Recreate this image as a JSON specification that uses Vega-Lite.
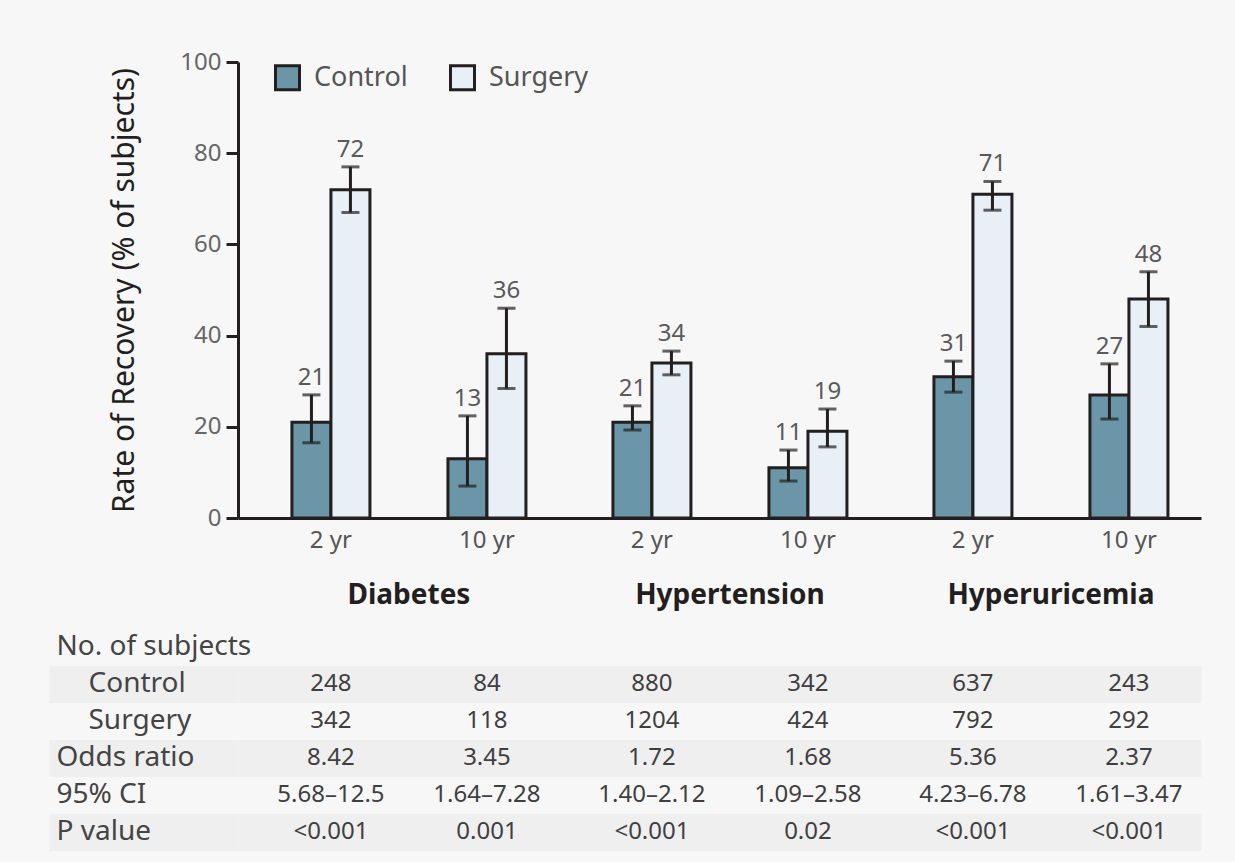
{
  "$schema": "https://vega.github.io/schema/vega-lite/v6.json",
  "background": "#f7f7f7",
  "padding": {"left": 30, "top": 50, "right": 40, "bottom": 12},
  "bounds": "flush",
  "spacing": 110,
  "config": {"view": {"stroke": null}, "font": "Noto Sans"},
  "datasets": {
    "bars": [
      {"condition": "Diabetes", "time": "2 yr", "group": "Control", "key": "2 yr|Control", "value": 21, "lower": 16.5, "upper": 27},
      {"condition": "Diabetes", "time": "2 yr", "group": "Surgery", "key": "2 yr|Surgery", "value": 72, "lower": 67, "upper": 77},
      {"condition": "Diabetes", "time": "10 yr", "group": "Control", "key": "10 yr|Control", "value": 13, "lower": 7, "upper": 22.4},
      {"condition": "Diabetes", "time": "10 yr", "group": "Surgery", "key": "10 yr|Surgery", "value": 36, "lower": 28.4, "upper": 46},
      {"condition": "Hypertension", "time": "2 yr", "group": "Control", "key": "2 yr|Control", "value": 21, "lower": 19.3, "upper": 24.6},
      {"condition": "Hypertension", "time": "2 yr", "group": "Surgery", "key": "2 yr|Surgery", "value": 34, "lower": 31.4, "upper": 36.6},
      {"condition": "Hypertension", "time": "10 yr", "group": "Control", "key": "10 yr|Control", "value": 11, "lower": 8.1, "upper": 14.9},
      {"condition": "Hypertension", "time": "10 yr", "group": "Surgery", "key": "10 yr|Surgery", "value": 19, "lower": 15.6, "upper": 23.9},
      {"condition": "Hyperuricemia", "time": "2 yr", "group": "Control", "key": "2 yr|Control", "value": 31, "lower": 27.6, "upper": 34.4},
      {"condition": "Hyperuricemia", "time": "2 yr", "group": "Surgery", "key": "2 yr|Surgery", "value": 71, "lower": 67.5, "upper": 73.8},
      {"condition": "Hyperuricemia", "time": "10 yr", "group": "Control", "key": "10 yr|Control", "value": 27, "lower": 21.7, "upper": 33.8},
      {"condition": "Hyperuricemia", "time": "10 yr", "group": "Surgery", "key": "10 yr|Surgery", "value": 48, "lower": 42, "upper": 54}
    ],
    "table": [
      {"condition": "Diabetes", "time": "2 yr", "row": "Control", "text": "248"},
      {"condition": "Diabetes", "time": "10 yr", "row": "Control", "text": "84"},
      {"condition": "Hypertension", "time": "2 yr", "row": "Control", "text": "880"},
      {"condition": "Hypertension", "time": "10 yr", "row": "Control", "text": "342"},
      {"condition": "Hyperuricemia", "time": "2 yr", "row": "Control", "text": "637"},
      {"condition": "Hyperuricemia", "time": "10 yr", "row": "Control", "text": "243"},
      {"condition": "Diabetes", "time": "2 yr", "row": "Surgery", "text": "342"},
      {"condition": "Diabetes", "time": "10 yr", "row": "Surgery", "text": "118"},
      {"condition": "Hypertension", "time": "2 yr", "row": "Surgery", "text": "1204"},
      {"condition": "Hypertension", "time": "10 yr", "row": "Surgery", "text": "424"},
      {"condition": "Hyperuricemia", "time": "2 yr", "row": "Surgery", "text": "792"},
      {"condition": "Hyperuricemia", "time": "10 yr", "row": "Surgery", "text": "292"},
      {"condition": "Diabetes", "time": "2 yr", "row": "Odds ratio", "text": "8.42"},
      {"condition": "Diabetes", "time": "10 yr", "row": "Odds ratio", "text": "3.45"},
      {"condition": "Hypertension", "time": "2 yr", "row": "Odds ratio", "text": "1.72"},
      {"condition": "Hypertension", "time": "10 yr", "row": "Odds ratio", "text": "1.68"},
      {"condition": "Hyperuricemia", "time": "2 yr", "row": "Odds ratio", "text": "5.36"},
      {"condition": "Hyperuricemia", "time": "10 yr", "row": "Odds ratio", "text": "2.37"},
      {"condition": "Diabetes", "time": "2 yr", "row": "95% CI", "text": "5.68–12.5"},
      {"condition": "Diabetes", "time": "10 yr", "row": "95% CI", "text": "1.64–7.28"},
      {"condition": "Hypertension", "time": "2 yr", "row": "95% CI", "text": "1.40–2.12"},
      {"condition": "Hypertension", "time": "10 yr", "row": "95% CI", "text": "1.09–2.58"},
      {"condition": "Hyperuricemia", "time": "2 yr", "row": "95% CI", "text": "4.23–6.78"},
      {"condition": "Hyperuricemia", "time": "10 yr", "row": "95% CI", "text": "1.61–3.47"},
      {"condition": "Diabetes", "time": "2 yr", "row": "P value", "text": "<0.001"},
      {"condition": "Diabetes", "time": "10 yr", "row": "P value", "text": "0.001"},
      {"condition": "Hypertension", "time": "2 yr", "row": "P value", "text": "<0.001"},
      {"condition": "Hypertension", "time": "10 yr", "row": "P value", "text": "0.02"},
      {"condition": "Hyperuricemia", "time": "2 yr", "row": "P value", "text": "<0.001"},
      {"condition": "Hyperuricemia", "time": "10 yr", "row": "P value", "text": "<0.001"}
    ]
  },
  "vconcat": [
    {
      "width": 963,
      "height": 456,
      "data": {"name": "bars"},
      "encoding": {
        "x": {
          "field": "condition", "type": "nominal",
          "scale": {"domain": ["Diabetes", "Hypertension", "Hyperuricemia"], "paddingInner": 0.271, "paddingOuter": 0.1355, "align": 0.62},
          "axis": {"title": null, "domainColor": "#231f20", "domainWidth": 3, "ticks": false, "labelAngle": 0, "labelPadding": 63, "labelFontSize": 28, "labelFontWeight": "bold", "labelColor": "#231f20", "labelLimit": 0}
        }
      },
      "layer": [
        {
          "encoding": {
            "xOffset": {"field": "key", "type": "nominal", "scale": {"domain": ["2 yr|Control", "2 yr|Surgery", "gapA", "gapB", "10 yr|Control", "10 yr|Surgery"], "paddingInner": 0, "paddingOuter": 0}}
          },
          "layer": [
            {
              "mark": {"type": "bar", "stroke": "#231f20", "strokeWidth": 3},
              "encoding": {
                "y": {"field": "value", "type": "quantitative", "title": "Rate of Recovery (% of subjects)",
                  "scale": {"domain": [0, 100], "nice": false},
                  "axis": {"values": [0, 20, 40, 60, 80, 100], "grid": false, "domainColor": "#231f20", "domainWidth": 3, "tickColor": "#231f20", "tickWidth": 3, "tickSize": 12, "labelFontSize": 24, "labelColor": "#666666", "labelPadding": 5, "titleFontSize": 30, "titleFontWeight": "normal", "titleColor": "#231f20", "titlePadding": 40}},
                "fill": {"field": "group", "type": "nominal",
                  "scale": {"domain": ["Control", "Surgery"], "range": ["#6a96a8", "#e8eff6"]},
                  "legend": {"title": null, "orient": "none", "legendX": 36, "legendY": 2, "direction": "horizontal", "symbolType": "square", "symbolSize": 576, "symbolStrokeColor": "#231f20", "symbolStrokeWidth": 3, "labelFontSize": 27, "labelColor": "#555555", "labelOffset": 13, "columnPadding": 36}}
              }
            },
            {
              "mark": {"type": "rule", "color": "#231f20", "strokeWidth": 3},
              "encoding": {
                "y": {"field": "lower", "type": "quantitative", "title": "Rate of Recovery (% of subjects)"},
                "y2": {"field": "upper"}
              }
            },
            {
              "mark": {"type": "tick", "color": "#231f20", "thickness": 3, "size": 18, "orient": "horizontal"},
              "encoding": {"y": {"field": "upper", "type": "quantitative", "title": "Rate of Recovery (% of subjects)"}}
            },
            {
              "mark": {"type": "tick", "color": "#231f20", "thickness": 3, "size": 18, "orient": "horizontal"},
              "encoding": {"y": {"field": "lower", "type": "quantitative", "title": "Rate of Recovery (% of subjects)"}}
            },
            {
              "mark": {"type": "text", "fontSize": 24, "color": "#5a5a5a", "baseline": "alphabetic", "dy": -10},
              "encoding": {
                "y": {"field": "upper", "type": "quantitative", "title": "Rate of Recovery (% of subjects)"},
                "text": {"field": "value"}
              }
            }
          ]
        },
        {
          "transform": [{"filter": "datum.group == 'Control'"}],
          "mark": {"type": "text", "fontSize": 24, "color": "#555555", "baseline": "middle", "dy": 23},
          "encoding": {
            "xOffset": {"field": "time", "type": "nominal", "scale": {"type": "point", "domain": ["2 yr", "10 yr"], "padding": 0.25}},
            "y": {"datum": 0, "type": "quantitative", "title": "Rate of Recovery (% of subjects)"},
            "text": {"field": "time"}
          }
        }
      ],
      "resolve": {"scale": {"xOffset": "independent"}}
    },
    {
      "width": 963,
      "height": 222,
      "data": {"name": "table"},
      "mark": {"type": "text", "fontSize": 24, "color": "#3f3f3f"},
      "encoding": {
        "x": {"field": "condition", "type": "nominal",
          "scale": {"domain": ["Diabetes", "Hypertension", "Hyperuricemia"], "paddingInner": 0.271, "paddingOuter": 0.1355, "align": 0.62},
          "axis": null},
        "xOffset": {"field": "time", "type": "nominal", "scale": {"type": "point", "domain": ["2 yr", "10 yr"], "padding": 0.25}},
        "y": {"field": "row", "type": "nominal",
          "scale": {"domain": ["No. of subjects", "Control", "Surgery", "Odds ratio", "95% CI", "P value"], "paddingInner": 0, "paddingOuter": 0},
          "axis": {"title": null, "domain": false, "bandPosition": 0.5,
            "ticks": true, "tickSize": 189, "tickWidth": 37,
            "tickColor": {"condition": {"test": "indexof(['Control','Odds ratio','P value'], datum.value) >= 0", "value": "#efefef"}, "value": "transparent"},
            "grid": true, "gridWidth": 37,
            "gridColor": {"condition": {"test": "indexof(['Control','Odds ratio','P value'], datum.value) >= 0", "value": "#efefef"}, "value": "transparent"},
            "labelAlign": "left",
            "labelPadding": {"condition": {"test": "datum.value == 'Control' || datum.value == 'Surgery'", "value": -39}, "value": -7},
            "labelFontSize": 28, "labelColor": "#444444", "labelLimit": 0}},
        "text": {"field": "text"}
      }
    }
  ]
}
